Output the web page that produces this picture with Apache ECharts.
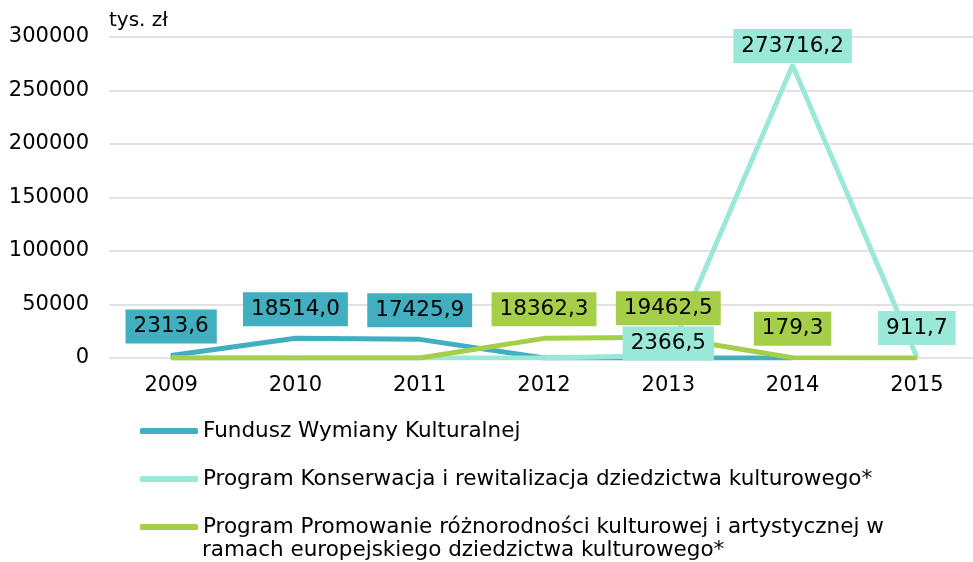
<!DOCTYPE html>
<html><head><meta charset="utf-8">
<script src="https://cdn.jsdelivr.net/npm/echarts@6/dist/echarts.min.js"></script>
<style>html,body{margin:0;padding:0;background:#fff}#c{width:973px;height:562px}</style>
</head><body><div id="c"></div>
<script>
const years = ['2009','2010','2011','2012','2013','2014','2015'];
const fundusz = [2313.6, 18514.0, 17425.9, 0, 0, 0, null];
const konserwacja = [0, 0, 0, 0, 2366.5, 273716.2, 911.7];
const promowanie = [0, 0, 0, 18362.3, 19462.5, 179.3, 0];
const seriesNames = [
  'Fundusz Wymiany Kulturalnej',
  'Program Konserwacja i rewitalizacja dziedzictwa kulturowego*',
  'Program Promowanie różnorodności kulturowej i artystycznej w'
];
const name3Line2 = 'ramach europejskiego dziedzictwa kulturowego*';
const unit = 'tys. zł';

const colors = ['#41AFC0', '#9AE8D7', '#A5CF48'];
const FONT = 'DejaVu Sans';

function fmt(v){ return v.toFixed(1).replace('.', ','); }

function mkData(arr, offsets){
  return arr.map((v,i)=>{
    if (v === null) return null;
    const o = {value: v};
    if (v === 0) o.label = {show:false};
    else if (offsets && offsets[i]) o.label = {offset: offsets[i]};
    return o;
  });
}

function mkSeries(name, arr, color, offsets){
  return {
    name, type:'line', data: mkData(arr, offsets),
    symbol:'circle', symbolSize: 2, showSymbol: true,
    itemStyle:{color}, lineStyle:{color, width:5},
    emphasis:{disabled:true},
    label:{
      show:true, position:'top', distance:11,
      formatter: p => fmt(p.value),
      backgroundColor: color, color:'#000',
      fontFamily: FONT, fontSize:21.5, padding:[6,8,6,8]
    }
  };
}

const chart = echarts.init(document.getElementById('c'));
chart.setOption({
  animation:false,
  textStyle:{fontFamily:FONT},
  title:{text:unit, left:104, top:6, textStyle:{fontFamily:FONT, fontSize:20, fontWeight:'normal', color:'#000'}},
  grid:{left:109, top:37, width:870, bottom:204, containLabel:false, outerBoundsMode:'none'},
  xAxis:{
    type:'category', data:years, boundaryGap:true,
    axisLine:{show:false}, axisTick:{show:false},
    axisLabel:{color:'#000', fontFamily:FONT, fontSize:21, margin:17}
  },
  yAxis:{
    type:'value', min:0, max:300000, interval:50000,
    axisLine:{show:false}, axisTick:{show:false},
    splitLine:{lineStyle:{color:'#D9D9D9', width:1.5}},
    axisLabel:{color:'#000', fontFamily:FONT, fontSize:21, margin:20, formatter: v => String(v)}
  },
  legend:[0,1,2].map(i=>({
    data:[seriesNames[i]], left:140, top:[420,468,516][i], orient:'vertical',
    padding:0, itemWidth:58, itemHeight:6, itemGap:5, icon:'roundRect',
    selectedMode:false,
    textStyle:{fontFamily:FONT, fontSize:21.5, color:'#000'}
  })),
  graphic:[{type:'text', left:202, top:539, style:{text:name3Line2, font:'21.5px "DejaVu Sans"', fill:'#000'}}],
  series:[
    mkSeries(seriesNames[0], fundusz, colors[0]),
    mkSeries(seriesNames[1], konserwacja, colors[1], {4:[0,17], 5:[0,10]}),
    mkSeries(seriesNames[2], promowanie, colors[2])
  ]
});
</script></body></html>
